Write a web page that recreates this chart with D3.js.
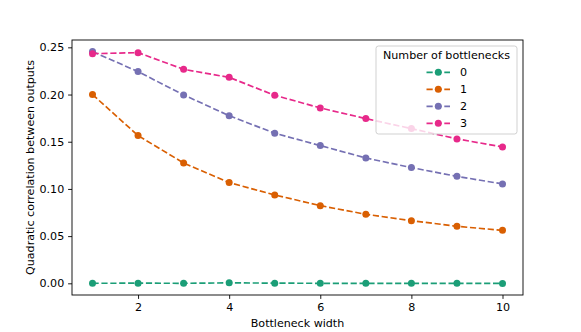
<!DOCTYPE html>
<html>
<head>
<meta charset="UTF-8">
<script src="https://d3js.org/d3.v7.min.js"></script>
<style>
  body { margin: 0; background: #fff; }
  svg { display: block; font-family: "DejaVu Sans", sans-serif; }
  text { font-size: 11.1px; }
</style>
</head>
<body>
<svg width="581" height="332"></svg>
<script>
// data
const widths = [1, 2, 3, 4, 5, 6, 7, 8, 9, 10];
const series0 = [0.0000, 0.0002, 0.0000, 0.0005, 0.0002, 0.0000, 0.0000, 0.0000, 0.0000, -0.0001];
const series1 = [0.2000, 0.1565, 0.1275, 0.1067, 0.0936, 0.0823, 0.0731, 0.0664, 0.0604, 0.0561];
const series2 = [0.2455, 0.2243, 0.1996, 0.1776, 0.1590, 0.1459, 0.1328, 0.1226, 0.1133, 0.1053];
const series3 = [0.2433, 0.2444, 0.2267, 0.2182, 0.1992, 0.1858, 0.1745, 0.1639, 0.1530, 0.1445];
const seriesNames = ["0", "1", "2", "3"];
const colors = ["#1b9e77", "#d95f02", "#7570b3", "#e7298a"];
const xTicks = [2, 4, 6, 8, 10];
const yTicks = [0, 0.05, 0.10, 0.15, 0.20, 0.25];

const svg = d3.select("svg");
const m = { left: 72, top: 40, right: 523, bottom: 295 };
const dash = "6.2,2.7";

const allSeries = [series0, series1, series2, series3].map((vals, i) => ({
  name: seriesNames[i], color: colors[i],
  pts: widths.map((w, j) => ({ x: w, y: vals[j] }))
}));

// matplotlib style 5% margins
const xPad = (d3.max(widths) - d3.min(widths)) * 0.05;
const allY = allSeries.flatMap(s => s.pts.map(p => p.y));
const yPad = (d3.max(allY) - d3.min(allY)) * 0.05;

const x = d3.scaleLinear().domain([d3.min(widths) - xPad, d3.max(widths) + xPad]).range([m.left, m.right]);
const y = d3.scaleLinear().domain([d3.min(allY) - yPad, d3.max(allY) + yPad]).range([m.bottom, m.top]);

// lines + markers
const line = d3.line().x(d => x(d.x)).y(d => y(d.y));
const g = svg.append("g");
allSeries.forEach(s => {
  g.append("path").attr("d", line(s.pts))
    .attr("fill", "none").attr("stroke", s.color)
    .attr("stroke-width", 1.67).attr("stroke-dasharray", dash);
  g.selectAll(null).data(s.pts).enter().append("circle")
    .attr("cx", d => x(d.x)).attr("cy", d => y(d.y)).attr("r", 3.5)
    .attr("fill", s.color);
});

// axes
const xAxis = d3.axisBottom(x).tickValues(xTicks).tickSize(3.9).tickPadding(3.9).tickFormat(d3.format("d"));
const yAxis = d3.axisLeft(y).tickValues(yTicks).tickSize(3.9).tickPadding(3.9).tickFormat(d3.format(".2f"));
const gx = svg.append("g").attr("transform", `translate(0,${m.bottom})`).call(xAxis);
const gy = svg.append("g").attr("transform", `translate(${m.left},0)`).call(yAxis);
[gx, gy].forEach(a => {
  a.select(".domain").remove();
  a.selectAll(".tick line").attr("stroke", "#000").attr("stroke-width", 0.9);
  a.selectAll(".tick text").attr("fill", "#000").style("font-size", "11.1px")
    .style("font-family", "DejaVu Sans, sans-serif");
});

// frame
svg.append("rect").attr("x", m.left).attr("y", m.top)
  .attr("width", m.right - m.left).attr("height", m.bottom - m.top)
  .attr("fill", "none").attr("stroke", "#000").attr("stroke-width", 0.9);

// axis titles
svg.append("text").attr("x", (m.left + m.right) / 2).attr("y", 327)
  .attr("text-anchor", "middle").text("Bottleneck width");
svg.append("text").attr("transform", `translate(33.5,${(m.top + m.bottom) / 2}) rotate(-90)`)
  .attr("text-anchor", "middle").text("Quadratic correlation between outputs");

// legend
const lg = svg.append("g").attr("transform", "translate(376,46)");
lg.append("rect").attr("width", 141).attr("height", 88).attr("rx", 2.5)
  .attr("fill", "#fff").attr("fill-opacity", 0.8)
  .attr("stroke", "#ccc").attr("stroke-width", 0.9);
lg.append("text").attr("x", 70.5).attr("y", 12.5).attr("text-anchor", "middle")
  .text("Number of bottlenecks");
allSeries.forEach((s, i) => {
  const yy = 26.3 + i * 17;
  lg.append("line").attr("x1", 50.5).attr("x2", 74).attr("y1", yy).attr("y2", yy)
    .attr("stroke", s.color).attr("stroke-width", 1.67).attr("stroke-dasharray", dash);
  lg.append("circle").attr("cx", 62.3).attr("cy", yy).attr("r", 3.5).attr("fill", s.color);
  lg.append("text").attr("x", 84).attr("y", yy + 4).text(s.name);
});
</script>
</body>
</html>
